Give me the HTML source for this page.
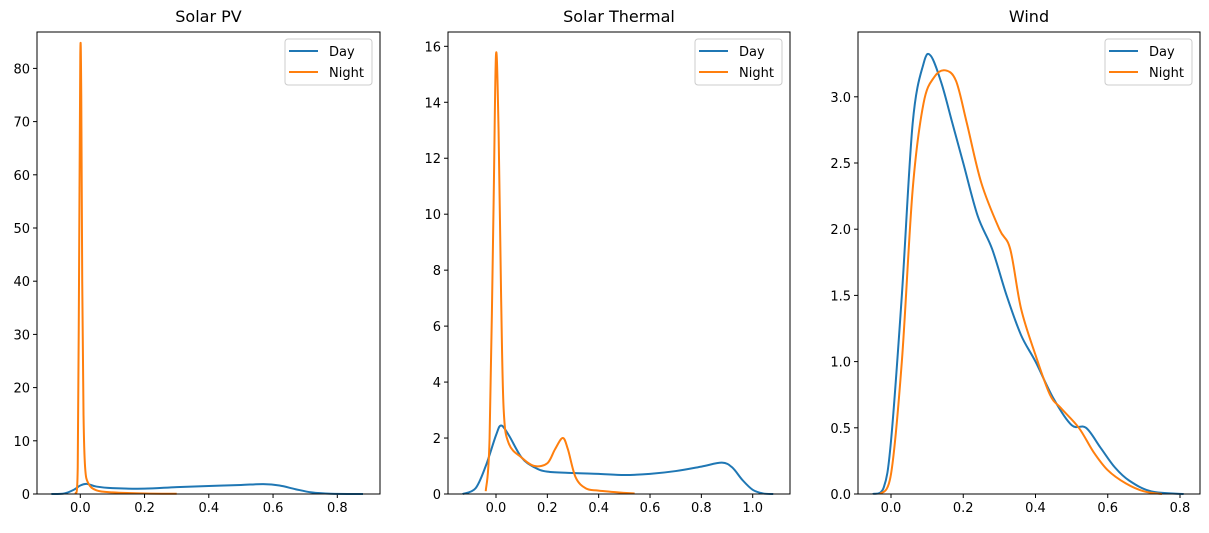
<!DOCTYPE html>
<html><head><meta charset="utf-8"><style>
body{margin:0;background:#fff;}
svg text{font-family:"DejaVu Sans","Liberation Sans",sans-serif;fill:#000;}
</style></head><body>
<svg id="chart" width="1209" height="528" xmlns="http://www.w3.org/2000/svg"></svg>
<script>
// Solar PV
const pvDayX=[-0.09,-0.05,-0.02,0.0,0.02,0.05,0.1,0.2,0.3,0.4,0.5,0.57,0.62,0.67,0.72,0.78,0.88];
const pvDayY=[0,0.1,0.8,1.6,1.9,1.4,1.1,1.0,1.3,1.5,1.7,1.85,1.6,0.9,0.3,0.05,0];
const pvNightX=[-0.015,-0.008,-0.004,0.0,0.003,0.006,0.01,0.015,0.025,0.05,0.1,0.2,0.3];
const pvNightY=[0,5,40,82.5,75,40,15,5,2,0.7,0.3,0.1,0.05];
const pvXTicks=[0,0.2,0.4,0.6,0.8];
const pvYTicks=[0,10,20,30,40,50,60,70,80];
// Solar Thermal
const stDayX=[-0.13,-0.08,-0.04,0.0,0.02,0.05,0.1,0.15,0.2,0.3,0.4,0.5,0.6,0.7,0.8,0.88,0.92,0.96,1.0,1.04,1.08];
const stDayY=[0,0.2,1.0,2.1,2.45,2.1,1.3,0.95,0.8,0.75,0.72,0.68,0.72,0.82,0.98,1.12,0.95,0.5,0.15,0.02,0];
const stNightX=[-0.04,-0.025,-0.01,0.0,0.01,0.02,0.03,0.05,0.1,0.15,0.2,0.23,0.26,0.28,0.31,0.35,0.4,0.5,0.54];
const stNightY=[0.1,2,10,15.7,13,7,3,1.8,1.3,1.0,1.1,1.6,2.0,1.6,0.6,0.2,0.12,0.04,0.02];
const stXTicks=[0,0.2,0.4,0.6,0.8,1.0];
const stYTicks=[0,2,4,6,8,10,12,14,16];
// Wind
const wDayX=[-0.05,-0.02,0.0,0.03,0.06,0.09,0.11,0.14,0.17,0.2,0.24,0.28,0.32,0.36,0.4,0.45,0.5,0.54,0.58,0.62,0.66,0.72,0.81];
const wDayY=[0,0.05,0.4,1.5,2.8,3.25,3.31,3.1,2.8,2.5,2.1,1.85,1.5,1.2,1.0,0.72,0.52,0.5,0.35,0.2,0.1,0.02,0];
const wNightX=[-0.03,0.0,0.03,0.06,0.09,0.12,0.15,0.18,0.21,0.25,0.3,0.33,0.36,0.4,0.44,0.47,0.52,0.56,0.6,0.65,0.7,0.75];
const wNightY=[0,0.15,1.0,2.3,2.95,3.15,3.2,3.12,2.8,2.35,2.0,1.85,1.4,1.05,0.75,0.65,0.5,0.32,0.18,0.08,0.02,0];
const wXTicks=[0,0.2,0.4,0.6,0.8];
const wYTicks=[0,0.5,1.0,1.5,2.0,2.5,3.0];

const svg=document.getElementById('chart');
const NS='http://www.w3.org/2000/svg';
function mk(tag,attrs,parent){const e=document.createElementNS(NS,tag);for(const k in attrs)e.setAttribute(k,attrs[k]);(parent||svg).appendChild(e);return e;}
function smooth(pts){let d='M'+pts[0][0]+','+pts[0][1];for(let i=0;i<pts.length-1;i++){const p0=pts[Math.max(0,i-1)],p1=pts[i],p2=pts[i+1],p3=pts[Math.min(pts.length-1,i+2)];const c1x=p1[0]+(p2[0]-p0[0])/6,c1y=p1[1]+(p2[1]-p0[1])/6,c2x=p2[0]-(p3[0]-p1[0])/6,c2y=p2[1]-(p3[1]-p1[1])/6;d+=` C${c1x},${c1y} ${c2x},${c2y} ${p2[0]},${p2[1]}`;}return d;}

function panel(cfg){
  const g=mk('g',{});
  
  
  const L=cfg.left,R=cfg.right,T=32,B=494;
  const sx=v=>cfg.x0px+(v-0)*cfg.xs, sy=v=>B-v*cfg.ys;
  const t=mk('text',{x:(L+R)/2,y:22,'text-anchor':'middle','font-size':'16'},g);t.textContent=cfg.title;
  
  
  cfg.xt.forEach(v=>{const x=sx(v);mk('line',{x1:x,x2:x,y1:B,y2:B+4,stroke:'#000','stroke-width':1},g);const tx=mk('text',{x:x,y:B+18,'text-anchor':'middle','font-size':'13'},g);tx.textContent=v.toFixed(1);
    
    });
  cfg.yt.forEach(v=>{const y=sy(v);mk('line',{x1:L-4,x2:L,y1:y,y2:y,stroke:'#000','stroke-width':1},g);const ty=mk('text',{x:L-7,y:y+5,'text-anchor':'end','font-size':'13'},g);ty.textContent=cfg.yfmt(v);
    
    });
  [[cfg.dx,cfg.dy,'#1f77b4','day-line'],[cfg.nx,cfg.ny,'#ff7f0e','night-line']].forEach(s=>{
    const pts=s[0].map((x,i)=>[sx(x),sy(s[1][i])]);
    const p=mk('path',{d:smooth(pts),fill:'none',stroke:s[2],'stroke-width':2},g);
    
    
  });
  mk('rect',{x:L,y:T,width:R-L,height:B-T,fill:'none',stroke:'#000','stroke-width':1},g);
  const lx=R-95,ly=39;
  const lg=mk('g',{},g);
  
  
  mk('rect',{x:lx,y:ly,width:87,height:46,rx:3,fill:'#fff',stroke:'#ccc','stroke-width':1},lg);
  [['Day','#1f77b4',51],['Night','#ff7f0e',72]].forEach(e=>{
    mk('line',{x1:lx+4,x2:lx+33,y1:e[2],y2:e[2],stroke:e[1],'stroke-width':2},lg);
    const tt=mk('text',{x:lx+44,y:e[2]+5,'font-size':'13'},lg);tt.textContent=e[0];
    
    
  });
}
panel({name:'solar-pv',title:'Solar PV',left:37,right:380,x0px:80.3,xs:321.25,ys:5.32,xt:pvXTicks,yt:pvYTicks,yfmt:v=>String(v),dx:pvDayX,dy:pvDayY,nx:pvNightX,ny:pvNightY});
panel({name:'solar-thermal',title:'Solar Thermal',left:448,right:790,x0px:496,xs:256.7,ys:27.98,xt:stXTicks,yt:stYTicks,yfmt:v=>String(v),dx:stDayX,dy:stDayY,nx:stNightX,ny:stNightY});
panel({name:'wind',title:'Wind',left:858,right:1200,x0px:891,xs:361.25,ys:132.4,xt:wXTicks,yt:wYTicks,yfmt:v=>v.toFixed(1),dx:wDayX,dy:wDayY,nx:wNightX,ny:wNightY});
</script>
</body></html>
